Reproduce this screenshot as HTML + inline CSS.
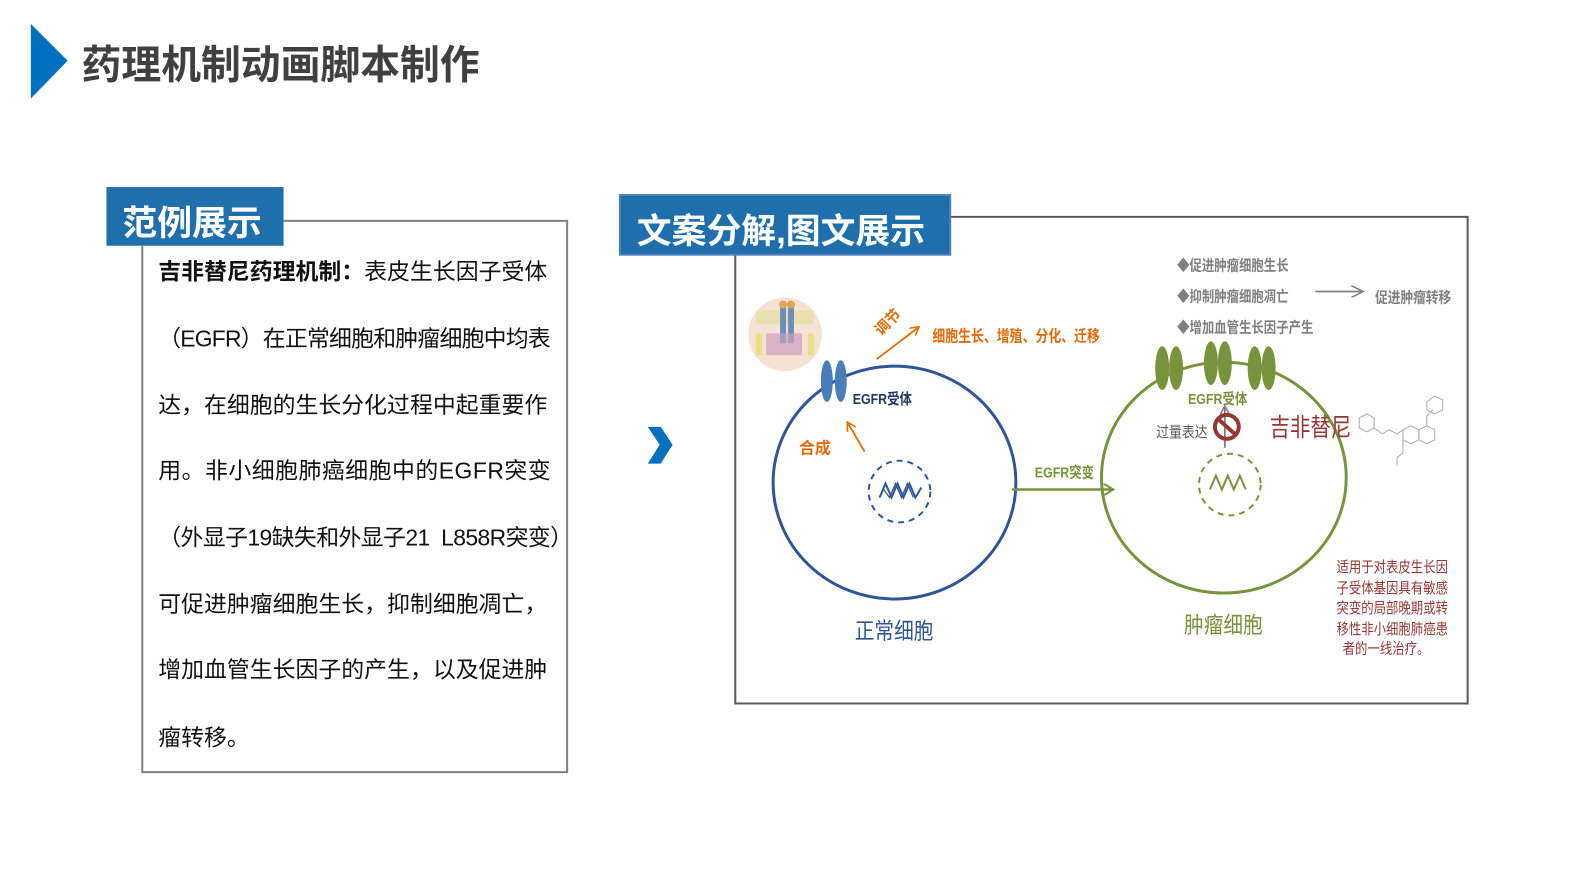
<!DOCTYPE html>
<html><head><meta charset="utf-8"><style>
body{margin:0;width:1594px;height:894px;background:#fff;overflow:hidden;position:relative;font-family:"Liberation Sans","Noto Sans CJK SC",sans-serif}
#w{position:absolute;left:0;top:0;width:1594px;height:894px;transform:scale(0.995);transform-origin:0 0}
.a{position:absolute;white-space:nowrap}
.c{transform-origin:0 50%}
.t{position:absolute;left:159px;font-size:23px;color:#111;line-height:30px;white-space:nowrap}
</style></head><body><div id="w">
<svg class="a" style="left:0;top:0" width="1594" height="894">
<defs>
<marker id="ao" markerWidth="10" markerHeight="10" refX="8" refY="5" orient="auto" markerUnits="userSpaceOnUse"><path d="M0,0 L9,5 L0,10" fill="none" stroke="#e36c09" stroke-width="1.6"/></marker>
<marker id="ag" markerWidth="12" markerHeight="12" refX="10" refY="6" orient="auto" markerUnits="userSpaceOnUse"><path d="M0,0 L10,6 L0,12" fill="none" stroke="#77933c" stroke-width="2"/></marker>
<marker id="ay" markerWidth="14" markerHeight="12" refX="12" refY="6" orient="auto" markerUnits="userSpaceOnUse"><path d="M0,0 L12,6 L0,12" fill="none" stroke="#7f7f7f" stroke-width="1.6"/></marker>
<marker id="au" markerWidth="10" markerHeight="10" refX="8" refY="5" orient="auto" markerUnits="userSpaceOnUse"><path d="M0,0 L9,5 L0,10" fill="none" stroke="#7f7f7f" stroke-width="1.6"/></marker>
</defs>
<polygon points="31,24 68,61 31,99" fill="#0070c0"/>
<polyline points="285,222 570,222 570,776 143,776 143,247" fill="none" stroke="#808080" stroke-width="2"/>
<rect x="107" y="188" width="178" height="59" fill="#1f6fad"/>
<polyline points="955,218 1475,218 1475,707 739,707 739,256" fill="none" stroke="#595959" stroke-width="2"/>
<rect x="623" y="196" width="332" height="60" fill="#1f6fad" stroke="#4f81bd" stroke-width="2"/>
<polygon points="651,429 664,429 676,447 664,466 651,466 663,447" fill="#0070c0"/>
<ellipse cx="899" cy="485" rx="122" ry="117" fill="none" stroke="#2f5597" stroke-width="3"/>
<ellipse cx="831" cy="383" rx="6" ry="21" fill="#4a7ebb"/>
<ellipse cx="845" cy="383" rx="6" ry="21" fill="#4a7ebb"/>
<circle cx="789" cy="336" r="37" fill="#f6e2d2"/>
<rect x="760" y="312" width="58" height="14" fill="#e8e0b0"/>
<rect x="784" y="305" width="6" height="40" fill="#6b8fba"/><rect x="792" y="305" width="6" height="40" fill="#6b8fba"/>
<circle cx="787" cy="306" r="4" fill="#e6a15a"/><circle cx="795" cy="306" r="4" fill="#e6a15a"/>
<rect x="770" y="335" width="36" height="22" fill="#c9a0c0" opacity=".7"/>
<rect x="760" y="335" width="6" height="22" fill="#e6e08a"/><rect x="812" y="335" width="6" height="22" fill="#e6e08a"/>
<line x1="881" y1="361" x2="923" y2="329" stroke="#e36c09" stroke-width="1.8" marker-end="url(#ao)"/>
<line x1="869" y1="454" x2="852" y2="425" stroke="#e36c09" stroke-width="1.8" marker-end="url(#ao)"/>
<circle cx="904" cy="494" r="31" fill="none" stroke="#2f5597" stroke-width="2" stroke-dasharray="6,5"/>
<path d="M884,500 L890,486 L896,500 L902,486 L908,500 L914,486 L920,500 L926,490" fill="none" stroke="#2f5597" stroke-width="2"/>
<path d="M888,492 L894,500 L900,486 L906,500 L912,486 L918,500" fill="none" stroke="#2f5597" stroke-width="1.3"/>
<line x1="1017" y1="492" x2="1119" y2="492" stroke="#77933c" stroke-width="2.5" marker-end="url(#ag)"/>
<ellipse cx="1230" cy="480" rx="123" ry="116" fill="none" stroke="#77933c" stroke-width="3"/>
<g fill="#77933c">
<ellipse cx="1168" cy="370" rx="7" ry="22"/><ellipse cx="1182" cy="370" rx="7" ry="22"/>
<ellipse cx="1217" cy="365" rx="7" ry="22"/><ellipse cx="1231" cy="365" rx="7" ry="22"/>
<ellipse cx="1261" cy="370" rx="7" ry="22"/><ellipse cx="1275" cy="370" rx="7" ry="22"/>
</g>
<line x1="1231" y1="450" x2="1231" y2="409" stroke="#7f7f7f" stroke-width="1.8" marker-end="url(#au)"/>
<circle cx="1233" cy="429" r="12" fill="none" stroke="#953735" stroke-width="4"/>
<line x1="1224" y1="421" x2="1242" y2="437" stroke="#953735" stroke-width="4"/>
<circle cx="1236" cy="487" r="31" fill="none" stroke="#77933c" stroke-width="2" stroke-dasharray="6,5"/>
<path d="M1216,492 L1222,478 L1228,492 L1234,478 L1240,492 L1246,478 L1252,492" fill="none" stroke="#77933c" stroke-width="2"/>
<line x1="1322" y1="293" x2="1370" y2="293" stroke="#7f7f7f" stroke-width="1.8" marker-end="url(#ay)"/>
<g fill="none" stroke="#aaa" stroke-width="1">
<polygon points="1366,420 1374,416 1381,420 1381,430 1374,434 1366,430"/>
<polyline points="1381,430 1389,436 1396,432 1404,436 1410,432"/>
<polygon points="1410,432 1418,428 1426,432 1426,442 1418,446 1410,442"/>
<polygon points="1426,432 1434,428 1442,432 1442,442 1434,446 1426,442"/>
<polyline points="1434,428 1434,418 1440,412"/>
<polygon points="1434,404 1442,398 1450,402 1450,412 1442,416 1434,412"/>
<polyline points="1410,442 1410,455 1404,460 1404,468"/>
</g>
</svg>
<div class="a" style="left:82px;top:33px;font-size:40px;font-weight:bold;color:#404040">药理机制动画脚本制作</div>
<div class="a" style="left:123px;top:196px;font-size:35px;font-weight:bold;color:#fff">范例展示</div>
<div class="t" style="top:258px"><b>吉非替尼药理机制：</b>表皮生长因子受体</div>
<div class="t" style="top:325px;letter-spacing:-0.8px">（EGFR）在正常细胞和肿瘤细胞中均表</div>
<div class="t" style="top:392px">达，在细胞的生长分化过程中起重要作</div>
<div class="t" style="top:458px;letter-spacing:0.5px">用。非小细胞肺癌细胞中的EGFR突变</div>
<div class="t" style="top:525px;letter-spacing:-0.6px">（外显子19缺失和外显子21&nbsp; L858R突变）</div>
<div class="t" style="top:592px">可促进肿瘤细胞生长，抑制细胞凋亡，</div>
<div class="t" style="top:658px">增加血管生长因子的产生，以及促进肿</div>
<div class="t" style="top:726px">瘤转移。</div>
<div class="a" style="left:640px;top:204px;font-size:35px;font-weight:bold;color:#fff">文案分解,图文展示</div>
<div class="a c" style="left:857px;top:390px;font-size:15px;font-weight:bold;color:#1f3864;transform:scaleX(.83)">EGFR受体</div>
<div class="a" style="left:877px;top:313px;font-size:15px;font-weight:bold;color:#e36c09;transform:rotate(-45deg)">调节</div>
<div class="a c" style="left:937px;top:324px;font-size:16px;font-weight:bold;color:#e36c09;transform:scaleX(.81)">细胞生长、增殖、分化、迁移</div>
<div class="a" style="left:803px;top:437px;font-size:16px;font-weight:bold;color:#e36c09">合成</div>
<div class="a c" style="left:1040px;top:464px;font-size:15px;font-weight:bold;color:#77933c;transform:scaleX(.83)">EGFR突变</div>
<div class="a c" style="left:1194px;top:390px;font-size:15px;font-weight:bold;color:#77933c;transform:scaleX(.83)">EGFR受体</div>
<div class="a c" style="left:1162px;top:423px;font-size:15px;color:#595959;transform:scaleX(.86)">过量表达</div>
<div class="a c" style="left:1276px;top:410px;font-size:25px;color:#953735;transform:scaleX(.82)">吉非替尼</div>
<div class="a c" style="left:1183px;top:256px;font-size:15px;font-weight:bold;color:#7f7f7f;transform:scaleX(.83)">◆促进肿瘤细胞生长</div>
<div class="a c" style="left:1183px;top:287px;font-size:15px;font-weight:bold;color:#7f7f7f;transform:scaleX(.83)">◆抑制肿瘤细胞凋亡</div>
<div class="a c" style="left:1183px;top:318px;font-size:15px;font-weight:bold;color:#7f7f7f;transform:scaleX(.83)">◆增加血管生长因子产生</div>
<div class="a c" style="left:1382px;top:288px;font-size:15px;font-weight:bold;color:#7f7f7f;transform:scaleX(.85)">促进肿瘤转移</div>
<div class="a c" style="left:859px;top:615px;font-size:23px;color:#2f5597;transform:scaleX(.86)">正常细胞</div>
<div class="a c" style="left:1190px;top:609px;font-size:23px;color:#77933c;transform:scaleX(.86)">肿瘤细胞</div>
<div class="a" style="left:1333px;top:561px;width:120px;font-size:15px;line-height:20.5px;color:#953735;text-align:center">
<div style="transform:scaleX(.83)">适用于对表皮生长因</div>
<div style="transform:scaleX(.83)">子受体基因具有敏感</div>
<div style="transform:scaleX(.83)">突变的局部晚期或转</div>
<div style="transform:scaleX(.83)">移性非小细胞肺癌患</div>
<div style="transform:scaleX(.83)">者的一线治疗。</div>
</div>
</div></body></html>
